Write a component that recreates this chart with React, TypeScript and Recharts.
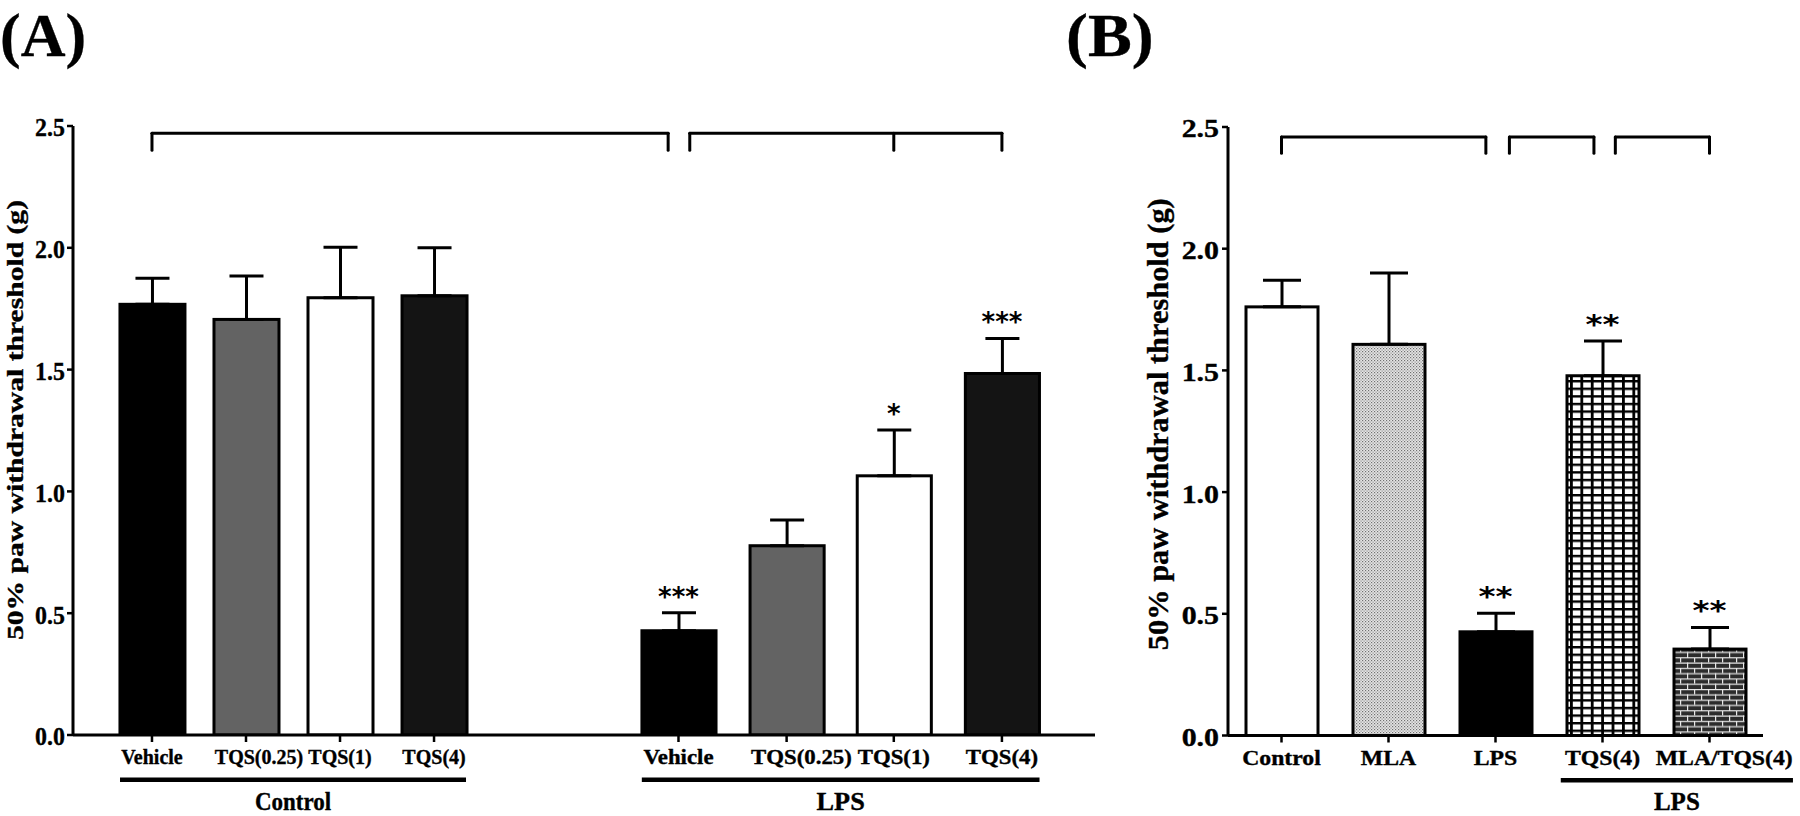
import React from 'react';
import { ComposedChart, Bar, XAxis, YAxis, ErrorBar, ReferenceLine, Scatter } from 'recharts';

const SERIF = '"Liberation Serif", "Times New Roman", serif';
const STAR_FONT = '"DejaVu Sans", sans-serif';

// ---------- Panel A data ----------
const aCategories = ['Vehicle', 'TQS(0.25)', 'TQS(1)', 'TQS(4)', 'Vehicle', 'TQS(0.25)', 'TQS(1)', 'TQS(4)'];
const aGroups = ['Control', 'Control', 'Control', 'Control', 'LPS', 'LPS', 'LPS', 'LPS'];
const aPositions = [1, 2, 3, 4, 6.6, 7.75, 8.89, 10.04];
const aMeans = [1.768, 1.706, 1.795, 1.803, 0.428, 0.777, 1.064, 1.484];
const aSEM = [0.107, 0.178, 0.207, 0.197, 0.074, 0.106, 0.188, 0.144];
const aStars = ['', '', '', '', '***', '', '*', '***'];
const aFills = ['#000000', '#636363', '#ffffff', '#141414', '#000000', '#636363', '#ffffff', '#141414'];
const aDomain = [0.16, 11.03];
const aGroupSpans = [
  { label: 'Control', from: 0.66, to: 4.34 },
  { label: 'LPS', from: 6.21, to: 10.44 },
];
const aBrackets = [
  { from: 1, to: 6.49, legs: [1, 6.49] },
  { from: 6.72, to: 10.04, legs: [6.72, 8.89, 10.04] },
];
const aBracketY = [2.47, 2.40];
const groupStretch: Record<string, number> = { Control: 1, LPS: 1.14 };
const groupLabelStretch: Record<string, number> = { Control: 0.92, LPS: 1.05 };

// ---------- Panel B data ----------
const bCategories = ['Control', 'MLA', 'LPS', 'TQS(4)', 'MLA/TQS(4)'];
const bPositions = [0.5, 1.5, 2.5, 3.5, 4.5];
const bMeans = [1.761, 1.607, 0.426, 1.478, 0.355];
const bSEM = [0.109, 0.293, 0.076, 0.143, 0.089];
const bStars = ['', '', '**', '**', '**'];
const bFills = ['#ffffff', 'url(#patDots)', '#000000', 'url(#patGrid)', 'url(#patBrick)'];
const bDomain = [0, 5];
const bGroupSpans = [{ label: 'LPS', from: 3.11, to: 5.28 }];
const bBrackets = [
  { from: 0.5, to: 2.41, legs: [0.5, 2.41] },
  { from: 2.63, to: 3.42, legs: [2.63, 3.42] },
  { from: 3.62, to: 4.5, legs: [3.62, 4.5] },
];
const bBracketY = [2.459, 2.392];
const bStretch = 1.13;

const yTicks = [0, 0.5, 1.0, 1.5, 2.0, 2.5];
const yLabel = '50% paw withdrawal threshold (g)';
const underlineY = -0.184;
const longLabelShift = 13;
const TEXT_STROKE = 0.35;

const aRows = aCategories.map((c, i) => ({ pos: aPositions[i], name: c, mean: aMeans[i], err: [0, aSEM[i]] }));
const aStarRows = aCategories
  .map((c, i) => ({ pos: aPositions[i], top: aMeans[i] + aSEM[i], star: aStars[i] }))
  .filter((r) => r.star);
const bRows = bCategories.map((c, i) => ({ pos: bPositions[i], name: c, mean: bMeans[i], err: [0, bSEM[i]] }));
const bStarRows = bCategories
  .map((c, i) => ({ pos: bPositions[i], top: bMeans[i] + bSEM[i], star: bStars[i] }))
  .filter((r) => r.star);

const idxOf = (arr: number[], v: number) => arr.findIndex((p) => Math.abs(p - v) < 1e-6);

const serifText = {
  fontFamily: SERIF,
  fontWeight: 'bold' as const,
  fill: '#000',
  stroke: '#000',
  strokeWidth: TEXT_STROKE,
};

const XTickA = (props: any) => {
  const { x, y, payload } = props;
  const i = idxOf(aPositions, payload.value);
  if (i < 0) return null;
  const s = groupStretch[aGroups[i]];
  const label = aCategories[i];
  const dx = label.length >= 9 ? longLabelShift * s : 0;
  return (
    <g transform={`translate(${x + dx},${y})`}>
      <text transform={`scale(${s},1)`} textAnchor="middle" dy="0.71em" fontSize={20} {...serifText}>
        {label}
      </text>
    </g>
  );
};

const XTickB = (props: any) => {
  const { x, y, payload } = props;
  const i = idxOf(bPositions, payload.value);
  if (i < 0) return null;
  const label = bCategories[i];
  const dx = label.length >= 9 ? longLabelShift * bStretch : 0;
  return (
    <g transform={`translate(${x + dx},${y})`}>
      <text transform={`scale(${bStretch},1)`} textAnchor="middle" dy="0.71em" fontSize={21} {...serifText}>
        {label}
      </text>
    </g>
  );
};

const makeYTick = (sx: number, size: number) => (props: any) => {
  const { x, y, payload } = props;
  return (
    <g transform={`translate(${x},${y})`}>
      <text transform={`scale(${sx},1)`} textAnchor="end" dy="0.4em" fontSize={size} {...serifText}>
        {Number(payload.value).toFixed(1)}
      </text>
    </g>
  );
};
const YTickA = makeYTick(0.92, 26);
const YTickB = makeYTick(1.15, 26);

const makeYLabel = (dxBase: number, dy: number, size: number, len: number) => (props: any) => {
  const vb = props.viewBox || {};
  const bx = vb.x + dxBase;
  const cy = vb.y + vb.height / 2 + dy;
  return (
    <text
      x={bx}
      y={cy}
      transform={`rotate(-90, ${bx}, ${cy})`}
      textAnchor="middle"
      fontSize={size}
      textLength={len}
      lengthAdjust="spacingAndGlyphs"
      {...serifText}
    >
      {yLabel}
    </text>
  );
};

const aBarShape = (p: any) => {
  const i = p.index;
  const k = groupStretch[aGroups[i]];
  const w = p.width * k;
  const x = p.x + p.width / 2 - w / 2;
  return <rect x={x} y={p.y} width={w} height={p.height} fill={aFills[i]} stroke="#000" strokeWidth={3} />;
};

const bBarShape = (p: any) => {
  const i = p.index;
  return <rect x={p.x} y={p.y} width={p.width} height={p.height} fill={bFills[i]} stroke="#000" strokeWidth={3} />;
};

const makeStarShape = (sx: number) => (p: any) => {
  const { cx, cy, payload } = p;
  return (
    <g transform={`translate(${cx},${cy - 7})`}>
      <text transform={`scale(${sx},1)`} textAnchor="middle" fontFamily={STAR_FONT} fontWeight="bold" fontSize={26} fill="#000">
        {payload.star}
      </text>
    </g>
  );
};

const renderBrackets = (brackets: any[], yPair: number[], prefix: string) =>
  brackets.flatMap((b, bi) => [
    <ReferenceLine
      key={`${prefix}h${bi}`}
      segment={[{ x: b.from, y: yPair[0] }, { x: b.to, y: yPair[0] }]}
      stroke="#000"
      strokeWidth={3}
      strokeLinecap="round"
      ifOverflow="visible"
    />,
    ...b.legs.map((lx: number, li: number) => (
      <ReferenceLine
        key={`${prefix}l${bi}-${li}`}
        segment={[{ x: lx, y: yPair[0] }, { x: lx, y: yPair[1] }]}
        stroke="#000"
        strokeWidth={3}
        strokeLinecap="round"
        ifOverflow="visible"
      />
    )),
  ]);

const renderGroups = (groups: any[], prefix: string, stretchOf: (g: string) => number, size: number) =>
  groups.map((g, gi) => (
    <ReferenceLine
      key={`${prefix}g${gi}`}
      segment={[{ x: g.from, y: underlineY }, { x: g.to, y: underlineY }]}
      stroke="#000"
      strokeWidth={4.5}
      ifOverflow="visible"
      label={{
        content: (lp: any) => {
          const vb = lp.viewBox || {};
          const cx = vb.x + (vb.width || 0) / 2;
          const cy = vb.y + 30;
          return (
            <g transform={`translate(${cx},${cy})`}>
              <text transform={`scale(${stretchOf(g.label)},1)`} textAnchor="middle" fontSize={size} {...serifText}>
                {g.label}
              </text>
            </g>
          );
        },
      }}
    />
  ));

const axisLineStyle = { stroke: '#000', strokeWidth: 3 };
const tickLineStyle = { stroke: '#000', strokeWidth: 2.5 };

const App = () => (
  <div style={{ position: 'absolute', left: 0, top: 0, width: 1800, height: 816, background: '#fff' }}>
    <svg width={1800} height={816} style={{ position: 'absolute', left: 0, top: 0 }}>
      <defs>
        <pattern id="patDots" patternUnits="userSpaceOnUse" width={3} height={3}>
          <rect width={3} height={3} fill="#e6e6e6" />
          <rect x={0} y={0} width={1.2} height={1.2} fill="#707070" />
          <rect x={1.5} y={1.5} width={1.2} height={1.2} fill="#8a8a8a" />
        </pattern>
        <pattern id="patGrid" patternUnits="userSpaceOnUse" width={10.4} height={7.6}>
          <rect width={10.4} height={7.6} fill="#ffffff" />
          <rect x={0} y={0} width={10.4} height={2.4} fill="#000" />
          <rect x={0} y={0} width={2.8} height={7.6} fill="#000" />
        </pattern>
        <pattern id="patBrick" patternUnits="userSpaceOnUse" width={14} height={10.6}>
          <rect width={14} height={10.6} fill="#2c2c2c" />
          <rect x={0} y={0} width={14} height={1.2} fill="#e8e8e8" />
          <rect x={0} y={5.3} width={14} height={1.2} fill="#e8e8e8" />
          <rect x={0} y={0} width={1.2} height={5.3} fill="#e8e8e8" />
          <rect x={7} y={5.3} width={1.2} height={5.3} fill="#e8e8e8" />
        </pattern>
      </defs>
      <text x={0} y={56} fontSize={62} {...serifText}>
        (A)
      </text>
      <g transform="translate(1066,56)">
        <text transform="scale(1.06,1)" fontSize={62} {...serifText}>
          (B)
        </text>
      </g>
    </svg>

    <div style={{ position: 'absolute', left: 0, top: 0 }}>
      <ComposedChart width={1100} height={816} data={aRows} margin={{ top: 126, right: 5, bottom: 41, left: 13 }}>
        <XAxis
          dataKey="pos"
          type="number"
          domain={aDomain}
          allowDataOverflow
          ticks={aPositions}
          interval={0}
          tick={<XTickA />}
          tickSize={7}
          tickMargin={8}
          height={40}
          axisLine={axisLineStyle}
          tickLine={tickLineStyle}
        />
        <YAxis
          type="number"
          domain={[0, 2.5]}
          allowDataOverflow
          ticks={yTicks}
          interval={0}
          width={60}
          tick={<YTickA />}
          tickSize={6}
          tickMargin={2}
          axisLine={axisLineStyle}
          tickLine={tickLineStyle}
          label={{ content: makeYLabel(10, -10.5, 24, 440) }}
        />
        <Bar dataKey="mean" barSize={65} shape={aBarShape} isAnimationActive={false}>
          <ErrorBar dataKey="err" direction="y" width={17} stroke="#000" strokeWidth={3} isAnimationActive={false} />
        </Bar>
        <Scatter data={aStarRows} dataKey="top" shape={makeStarShape(1)} isAnimationActive={false} />
        {renderBrackets(aBrackets, aBracketY, 'a')}
        {renderGroups(aGroupSpans, 'a', (g) => groupLabelStretch[g], 25)}
      </ComposedChart>
    </div>

    <div style={{ position: 'absolute', left: 1050, top: 0 }}>
      <ComposedChart width={750} height={816} data={bRows} margin={{ top: 127, right: 37, bottom: 40.5, left: 118 }}>
        <XAxis
          dataKey="pos"
          type="number"
          domain={bDomain}
          allowDataOverflow
          ticks={bPositions}
          interval={0}
          tick={<XTickB />}
          tickSize={7}
          tickMargin={8}
          height={40}
          axisLine={axisLineStyle}
          tickLine={tickLineStyle}
        />
        <YAxis
          type="number"
          domain={[0, 2.5]}
          allowDataOverflow
          ticks={yTicks}
          interval={0}
          width={60}
          tick={<YTickB />}
          tickSize={6}
          tickMargin={3}
          axisLine={axisLineStyle}
          tickLine={tickLineStyle}
          label={{ content: makeYLabel(0, -7, 30, 452) }}
        />
        <Bar dataKey="mean" barSize={72} shape={bBarShape} isAnimationActive={false}>
          <ErrorBar dataKey="err" direction="y" width={19} stroke="#000" strokeWidth={3} isAnimationActive={false} />
        </Bar>
        <Scatter data={bStarRows} dataKey="top" shape={makeStarShape(1.25)} isAnimationActive={false} />
        {renderBrackets(bBrackets, bBracketY, 'b')}
        {renderGroups(bGroupSpans, 'b', () => 1.0, 25)}
      </ComposedChart>
    </div>
  </div>
);

export default App;
